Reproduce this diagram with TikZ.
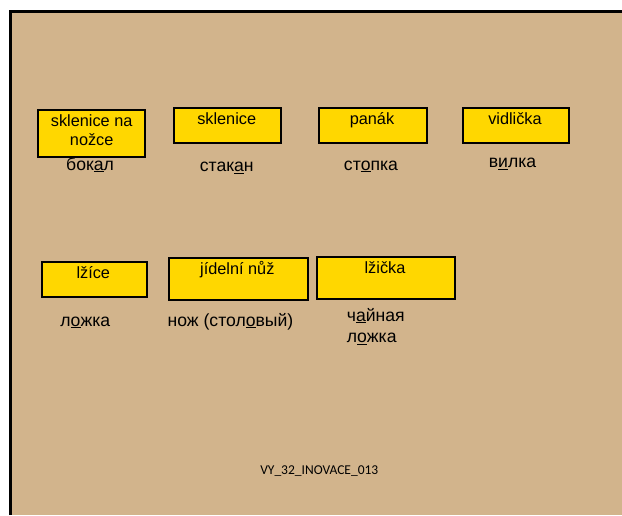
\documentclass[tikz,border=0pt]{standalone}
\usepackage{fontspec}
\setmainfont{Liberation Sans}
\newfontfamily\footfont{Carlito}
\definecolor{bgtan}{RGB}{210,180,140}
\definecolor{boxyellow}{RGB}{255,215,0}
\begin{document}
\begin{tikzpicture}[x=1pt,y=-1pt,
  card/.style={draw=black,line width=2pt,fill=boxyellow,inner sep=0pt},
  cz/.style={anchor=base,inner sep=0pt,font=\fontsize{16.3}{18.5}\selectfont},
  ru/.style={anchor=base,inner sep=0pt,font=\fontsize{17.6}{21}\selectfont},
  ft/.style={anchor=base,inner sep=0pt,font=\footfont\fontsize{13.5}{16}\selectfont}]
\useasboundingbox (0,0) rectangle (622,515);
\fill[bgtan] (10,12) rectangle (622,515);
\draw[line width=3pt] (10,515) -- (10,11.5) -- (622,11.5);
% row 1 cards
\node[card,minimum width=106.7pt,minimum height=46.7pt] (b1) at (91.7,133.3) {};
\node[card,minimum width=106.4pt,minimum height=34.4pt] (b2) at (227.5,125.5) {};
\node[card,minimum width=107.7pt,minimum height=34.4pt] (b3) at (372.8,125.5) {};
\node[card,minimum width=106.6pt,minimum height=34.4pt] (b4) at (516,125.5) {};
% row 2 cards
\node[card,minimum width=105.6pt,minimum height=34.4pt] (b5) at (94.5,279.5) {};
\node[card,minimum width=139pt,minimum height=41.7pt] (b6) at (238.8,279.2) {};
\node[card,minimum width=138.3pt,minimum height=41.7pt] (b7) at (385.8,278.2) {};
% Czech labels
\node[cz] (t1a) at (91.7,126.5) {sklenice na};
\node[cz] (t1b) at (91.7,145) {nožce};
\node[cz] (t2) at (226.7,124) {sklenice};
\node[cz] (t3) at (372,124) {panák};
\node[cz] (t4) at (515,124) {vidlička};
\node[cz] (t5) at (93.3,278.3) {lžíce};
\node[cz] (t6) at (237.3,274) {jídelní nůž};
\node[cz] (t7) at (385,273.3) {lžička};
% Russian labels
\node[ru] (r1) at (90,170) {бок\underline{а}л};
\node[ru] (r2) at (226.7,171.5) {стак\underline{а}н};
\node[ru] (r3) at (371,170) {ст\underline{о}пка};
\node[ru] (r4) at (512.5,167.7) {в\underline{и}лка};
\node[ru] (r5) at (85.3,326) {л\underline{о}жка};
\node[ru] (r6) at (230.5,326) {нож (стол\underline{о}вый)};
\node[ru,anchor=base west] (r7a) at (346.7,321) {ч\underline{а}йная};
\node[ru,anchor=base west] (r7b) at (346.7,342.3) {л\underline{о}жка};
% footer
\node[ft] (foot) at (319.3,474) {VY\_32\_INOVACE\_013};
\end{tikzpicture}
\end{document}
